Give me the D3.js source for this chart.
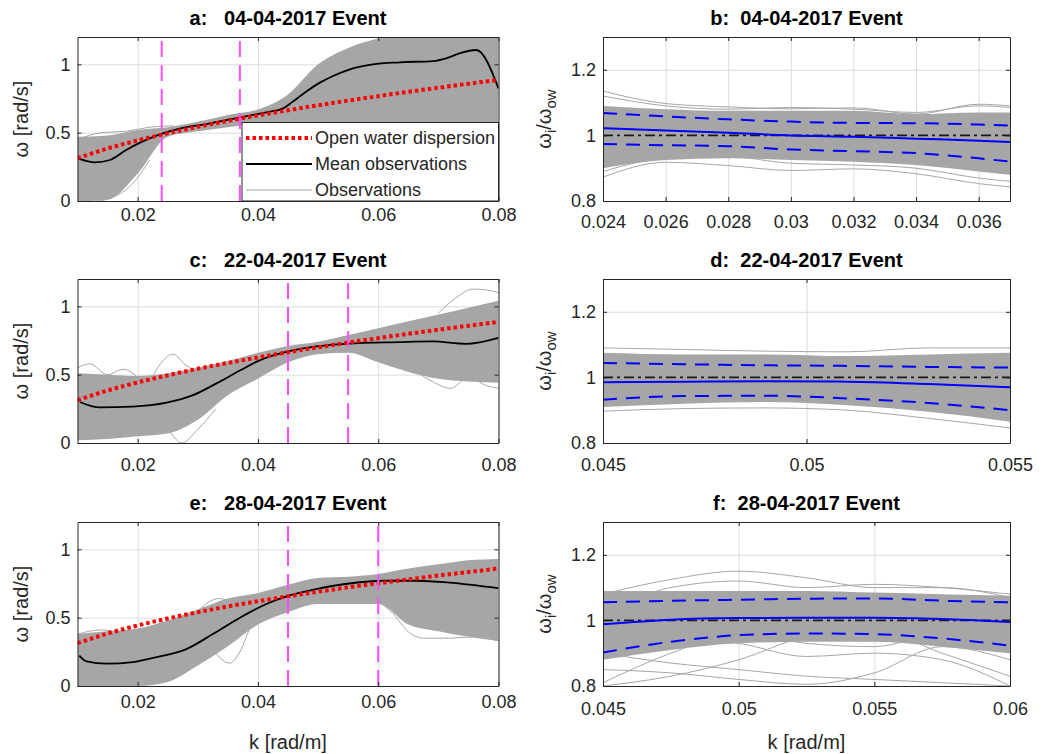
<!DOCTYPE html>
<html lang="en">
<head>
<meta charset="UTF-8">
<title>Dispersion events</title>
<script src="https://cdn.jsdelivr.net/npm/d3@7.9.0/dist/d3.min.js"></script>
<style>
    body { margin: 0; background: #fff; }
    svg { display: block; font-family: "Liberation Sans", Arial, Helvetica, sans-serif; }
    .axis text { fill: #262626; font-size: 18px; }
    .axis path, .axis line { stroke: #262626; }
    .grid line { stroke: #dcdcdc; }
    .grid path { display: none; }
    .title { font-size: 20px; font-weight: bold; fill: #000; white-space: pre; }
    .label { font-size: 20px; fill: #262626; }
</style>
</head>
<body>
<svg id="fig" width="1063" height="754"></svg>
<script>
// wavenumber grid for the envelopes of the left column
const kGrid = [0.01, 0.015, 0.02, 0.025, 0.03, 0.035, 0.04, 0.045, 0.05, 0.055, 0.06, 0.065, 0.07, 0.075, 0.08];

// open water dispersion
const owAC = [0.313, 0.384, 0.443, 0.495, 0.543, 0.586, 0.626, 0.664, 0.700, 0.735, 0.767, 0.799, 0.829, 0.858, 0.886];
const owE  = [0.313, 0.384, 0.443, 0.494, 0.540, 0.582, 0.620, 0.656, 0.690, 0.722, 0.752, 0.780, 0.808, 0.834, 0.860];

// a: 04-04-2017
const meanAK = [0.0102, 0.0129, 0.0154, 0.0181, 0.0204, 0.0237, 0.027, 0.0314, 0.037, 0.0414, 0.0442, 0.0458, 0.048, 0.0503, 0.0525, 0.0558, 0.0591, 0.0636, 0.0691, 0.0713, 0.0735, 0.0763, 0.08];
const meanAW = [0.31, 0.283, 0.30, 0.373, 0.427, 0.488, 0.53, 0.563, 0.612, 0.649, 0.678, 0.727, 0.80, 0.866, 0.915, 0.971, 1.0, 1.015, 1.024, 1.044, 1.08, 1.105, 0.824];
const obsATop = [0.47, 0.48, 0.52, 0.54, 0.58, 0.63, 0.67, 0.78, 1.0, 1.12, 1.19, 1.25, 1.25, 1.25, 1.25];
const obsABot = [0.0, 0.01, 0.2, 0.47, 0.51, 0.54, 0.56, 0.54, 0.5, 0.48, 0.47, 0.46, 0.45, 0.45, 0.45];
const strayA = [
    [[0.01, 0.02], [0.013, 0.0], [0.016, 0.03], [0.019, 0.12], [0.022, 0.3]],
    [[0.01, 0.45], [0.014, 0.5], [0.018, 0.51], [0.022, 0.54], [0.026, 0.55]]
];
const cutA = [0.024, 0.037];

// c: 22-04-2017
const meanCK = [0.0104, 0.0137, 0.0192, 0.0248, 0.0292, 0.0331, 0.037, 0.0403, 0.0447, 0.0497, 0.0547, 0.0635, 0.069, 0.0746, 0.08];
const meanCW = [0.30, 0.26, 0.266, 0.295, 0.35, 0.436, 0.53, 0.605, 0.666, 0.707, 0.726, 0.738, 0.743, 0.726, 0.77];
const obsCTop = [0.51, 0.5, 0.49, 0.51, 0.55, 0.6, 0.66, 0.71, 0.74, 0.79, 0.84, 0.89, 0.94, 0.99, 1.04];
const obsCBot = [0.02, 0.03, 0.05, 0.07, 0.17, 0.35, 0.47, 0.59, 0.65, 0.66, 0.59, 0.52, 0.47, 0.45, 0.44];
const strayC = [
    [[0.01, 0.55], [0.012, 0.58], [0.015, 0.5], [0.0176, 0.54], [0.02, 0.48]],
    [[0.022, 0.45], [0.0259, 0.65], [0.028, 0.57], [0.031, 0.52]],
    [[0.022, 0.2], [0.025, 0.1], [0.0273, 0.0], [0.03, 0.1], [0.033, 0.25]],
    [[0.07, 0.95], [0.0735, 1.08], [0.0757, 1.126], [0.078, 1.12], [0.08, 1.1]],
    [[0.064, 0.6], [0.069, 0.45], [0.072, 0.4], [0.075, 0.48], [0.078, 0.42], [0.08, 0.4]]
];
const cutC = [0.045, 0.055];

// e: 28-04-2017
const meanEK = [0.0103, 0.0115, 0.0148, 0.0192, 0.0237, 0.0281, 0.0325, 0.037, 0.0414, 0.045, 0.0497, 0.0552, 0.0608, 0.0663, 0.0718, 0.08];
const meanEW = [0.223, 0.18, 0.163, 0.175, 0.216, 0.27, 0.38, 0.50, 0.60, 0.66, 0.709, 0.75, 0.77, 0.77, 0.757, 0.716];
const obsETop = [0.38, 0.4, 0.42, 0.48, 0.56, 0.64, 0.68, 0.74, 0.79, 0.8, 0.82, 0.86, 0.89, 0.92, 0.93];
const obsEBot = [0.0, 0.0, 0.0, 0.03, 0.15, 0.29, 0.45, 0.54, 0.6, 0.6, 0.6, 0.45, 0.4, 0.36, 0.33];
const strayE = [
    [[0.032, 0.3], [0.0353, 0.167], [0.037, 0.25], [0.039, 0.45], [0.042, 0.55], [0.045, 0.6]],
    [[0.06, 0.62], [0.062, 0.55], [0.0655, 0.38], [0.0675, 0.35], [0.072, 0.35], [0.076, 0.36], [0.08, 0.33]],
    [[0.03, 0.55], [0.0335, 0.64], [0.036, 0.62], [0.038, 0.66]],
    [[0.01, 0.38], [0.014, 0.41], [0.018, 0.39], [0.022, 0.42]]
];
const cutE = [0.045, 0.06];

// b: ratio, 04-04-2017
const bK = [0.024, 0.026, 0.028, 0.03, 0.032, 0.034, 0.036, 0.037];
const bMean = [1.022, 1.015, 1.008, 1.0, 0.996, 0.99, 0.984, 0.98];
const bUp = [1.068, 1.058, 1.049, 1.042, 1.038, 1.037, 1.033, 1.03];
const bLo = [0.974, 0.97, 0.967, 0.957, 0.952, 0.946, 0.93, 0.92];
const bCoreTop = [1.09, 1.08, 1.075, 1.075, 1.075, 1.065, 1.07, 1.07];
const bCoreBot = [0.9, 0.925, 0.93, 0.925, 0.92, 0.91, 0.89, 0.88];
const strayB = [
    [1.135, 1.097, 1.087, 1.081, 1.084, 1.065, 1.095, 1.09],
    [1.12, 1.09, 1.08, 1.085, 1.08, 1.07, 1.09, 1.085],
    [0.873, 0.918, 0.908, 0.893, 0.898, 0.883, 0.853, 0.843],
    [0.89, 0.93, 0.935, 0.915, 0.91, 0.9, 0.87, 0.86]
];

// d: ratio, 22-04-2017
const dK = [0.045, 0.047, 0.049, 0.051, 0.053, 0.055];
const dMean = [0.985, 0.987, 0.988, 0.987, 0.98, 0.97];
const dUp = [1.044, 1.04, 1.037, 1.035, 1.032, 1.03];
const dLo = [0.932, 0.943, 0.944, 0.936, 0.922, 0.90];
const dCoreTop = [1.075, 1.07, 1.07, 1.065, 1.07, 1.075];
const dCoreBot = [0.91, 0.92, 0.925, 0.915, 0.895, 0.865];
const strayD = [
    [1.09, 1.085, 1.08, 1.078, 1.09, 1.09],
    [0.897, 0.905, 0.907, 0.9, 0.875, 0.846]
];

// f: ratio, 28-04-2017
const fK = [0.045, 0.0475, 0.05, 0.0525, 0.055, 0.0575, 0.06];
const fMean = [0.988, 1.002, 1.007, 1.008, 1.008, 1.004, 0.995];
const fUp = [1.055, 1.06, 1.063, 1.066, 1.067, 1.06, 1.055];
const fLo = [0.902, 0.935, 0.955, 0.96, 0.958, 0.945, 0.923];
const fCoreTop = [1.09, 1.09, 1.09, 1.09, 1.085, 1.08, 1.075];
const fCoreBot = [0.88, 0.91, 0.93, 0.935, 0.935, 0.92, 0.9];
const strayF = [
    [1.08, 1.125, 1.15, 1.13, 1.1, 1.1, 1.07],
    [1.02, 1.1, 1.12, 1.1, 1.11, 1.1, 1.08],
    [0.81, 0.9, 0.96, 0.93, 0.92, 0.96, 0.95],
    [0.9, 0.87, 0.85, 0.83, 0.82, 0.81, 0.8],
    [0.85, 0.84, 0.82, 0.805, 0.84, 0.92, 0.88],
    [0.92, 0.95, 0.93, 0.89, 0.9, 0.88, 0.8],
    [0.8, 0.83, 0.88, 0.95, 0.97, 0.9, 0.83]
];

// tick labels
const leftXTicks = [0.02, 0.04, 0.06, 0.08];
const leftYTicks = [0, 0.5, 1];
const rightYTicks = [0.8, 1, 1.2];
const bTicks = [0.024, 0.026, 0.028, 0.03, 0.032, 0.034, 0.036];
const dTicks = [0.045, 0.05, 0.055];
const fTicks = [0.045, 0.05, 0.055, 0.06];

const GRAY = '#a6a6a6';
const svg = d3.select('#fig');
svg.append('rect').attr('width', 1063).attr('height', 754).attr('fill', '#fff');

const fmt = v => String(+v.toFixed(4));
const rows = [37, 279, 522];
const H = 164;

function panel(o) {
    let top = rows[o.row], bottom = top + H;
    let x = d3.scaleLinear().domain(o.xDomain).range(o.xRange);
    let y = d3.scaleLinear().domain(o.yDomain).range([bottom, top]);
    let g = svg.append('g');

    svg.append('clipPath').attr('id', 'clip-' + o.name)
        .append('rect')
        .attr('x', o.xRange[0]).attr('y', top)
        .attr('width', o.xRange[1] - o.xRange[0]).attr('height', H);

    // grid
    g.append('g').attr('class', 'grid').attr('transform', `translate(0,${bottom})`)
        .call(d3.axisBottom(x).tickValues(o.xTicks).tickSize(-H).tickFormat(''));
    g.append('g').attr('class', 'grid').attr('transform', `translate(${o.xRange[0]},0)`)
        .call(d3.axisLeft(y).tickValues(o.yTicks).tickSize(-(o.xRange[1] - o.xRange[0])).tickFormat(''));

    let plot = g.append('g').attr('clip-path', `url(#clip-${o.name})`);
    o.draw(plot, x, y);

    // axes box with inward ticks on all sides
    g.append('g').attr('class', 'axis').attr('transform', `translate(0,${bottom})`)
        .call(d3.axisBottom(x).tickValues(o.xTicks).tickSizeInner(-4).tickSizeOuter(0).tickPadding(o.xPad).tickFormat(fmt));
    g.append('g').attr('class', 'axis').attr('transform', `translate(0,${top})`)
        .call(d3.axisTop(x).tickValues(o.xTicks).tickSizeInner(-4).tickSizeOuter(0).tickFormat(''));
    g.append('g').attr('class', 'axis').attr('transform', `translate(${o.xRange[0]},0)`)
        .call(d3.axisLeft(y).tickValues(o.yTicks).tickSizeInner(-4).tickSizeOuter(0).tickPadding(7).tickFormat(fmt));
    g.append('g').attr('class', 'axis').attr('transform', `translate(${o.xRange[1]},0)`)
        .call(d3.axisRight(y).tickValues(o.yTicks).tickSizeInner(-4).tickSizeOuter(0).tickFormat(''));
    g.selectAll('.axis').attr('font-size', null).attr('font-family', null);

    g.append('text').attr('class', 'title')
        .attr('x', (o.xRange[0] + o.xRange[1]) / 2).attr('y', top - 12)
        .attr('text-anchor', 'middle').text(o.title);

    let cy = (top + bottom) / 2;
    if (o.ratio) {
        let t = g.append('text').attr('class', 'label')
            .attr('transform', `translate(551,${cy}) rotate(-90)`).attr('text-anchor', 'middle');
        t.append('tspan').text('ω');
        t.append('tspan').attr('dy', 5).attr('font-size', 15).text('i');
        t.append('tspan').attr('dy', -5).text('/ω');
        t.append('tspan').attr('dy', 5).attr('font-size', 15).text('ow');
    } else {
        g.append('text').attr('class', 'label')
            .attr('transform', `translate(28,${cy}) rotate(-90)`).attr('text-anchor', 'middle')
            .text('ω [rad/s]');
    }
    if (o.xLabel) {
        g.append('text').attr('class', 'label')
            .attr('x', (o.xRange[0] + o.xRange[1]) / 2).attr('y', 749)
            .attr('text-anchor', 'middle').text('k [rad/m]');
    }
    return { x, y, g, top, bottom };
}

// left column: observations, mean, open water curve, window limits
function drawLeft(top, bot, strays, meanK, meanW, ow, cuts) {
    return function (plot, x, y) {
        let idx = d3.range(kGrid.length);
        plot.append('path').datum(idx)
            .attr('fill', GRAY)
            .attr('d', d3.area().curve(d3.curveMonotoneX)
                .x(i => x(kGrid[i])).y0(i => y(bot[i])).y1(i => y(top[i])));
        let pairLine = d3.line().curve(d3.curveMonotoneX).x(d => x(d[0])).y(d => y(d[1]));
        plot.selectAll('path.stray').data(strays).enter().append('path')
            .attr('class', 'stray').attr('fill', 'none').attr('stroke', GRAY).attr('stroke-width', 1)
            .attr('d', pairLine);
        plot.append('path').datum(d3.range(meanK.length))
            .attr('fill', 'none').attr('stroke', '#000').attr('stroke-width', 1.8)
            .attr('d', d3.line().curve(d3.curveMonotoneX).x(i => x(meanK[i])).y(i => y(meanW[i])));
        plot.append('path').datum(idx)
            .attr('fill', 'none').attr('stroke', '#ff0000').attr('stroke-width', 4)
            .attr('stroke-dasharray', '3.5,3')
            .attr('d', d3.line().curve(d3.curveMonotoneX).x(i => x(kGrid[i])).y(i => y(ow[i])));
        plot.selectAll('line.cut').data(cuts).enter().append('line')
            .attr('class', 'cut')
            .attr('x1', d => x(d)).attr('x2', d => x(d))
            .attr('y1', y.range()[0]).attr('y2', y.range()[1])
            .attr('stroke', '#ff4dff').attr('stroke-width', 2).attr('stroke-dasharray', '16,8');
    };
}

// right column: normalised observations with mean and spread
function drawRight(k, coreTop, coreBot, strays, mean, up, lo) {
    return function (plot, x, y) {
        let idx = d3.range(k.length);
        let line = arr => d3.line().curve(d3.curveMonotoneX).x(i => x(k[i])).y(i => y(arr[i]))(idx);
        plot.append('path')
            .attr('fill', GRAY)
            .attr('d', d3.area().curve(d3.curveMonotoneX)
                .x(i => x(k[i])).y0(i => y(coreBot[i])).y1(i => y(coreTop[i]))(idx));
        plot.selectAll('path.stray').data(strays).enter().append('path')
            .attr('class', 'stray').attr('fill', 'none').attr('stroke', GRAY).attr('stroke-width', 1)
            .attr('d', d => line(d));
        plot.append('line')
            .attr('x1', x.range()[0]).attr('x2', x.range()[1])
            .attr('y1', y(1)).attr('y2', y(1))
            .attr('stroke', '#1a1a1a').attr('stroke-width', 1.8).attr('stroke-dasharray', '10,4,3,4');
        plot.append('path').attr('fill', 'none').attr('stroke', '#0000ff').attr('stroke-width', 2)
            .attr('d', line(mean));
        [up, lo].forEach(arr => {
            plot.append('path').attr('fill', 'none').attr('stroke', '#0000ff').attr('stroke-width', 2)
                .attr('stroke-dasharray', '14,9').attr('d', line(arr));
        });
    };
}

const LX = [77.5, 498.5], RX = [603, 1010];

let pa = panel({ name: 'a', row: 0, xPad: 7, xRange: LX, xDomain: [0.01, 0.08], yDomain: [0, 1.2],
    xTicks: leftXTicks, yTicks: leftYTicks, title: 'a:   04-04-2017 Event',
    draw: drawLeft(obsATop, obsABot, strayA, meanAK, meanAW, owAC, cutA) });
panel({ name: 'b', row: 0, ratio: true, xPad: 14, xRange: RX, xDomain: [0.024, 0.037], yDomain: [0.8, 1.3],
    xTicks: bTicks, yTicks: rightYTicks, title: 'b:  04-04-2017 Event',
    draw: drawRight(bK, bCoreTop, bCoreBot, strayB, bMean, bUp, bLo) });
panel({ name: 'c', row: 1, xPad: 15, xRange: LX, xDomain: [0.01, 0.08], yDomain: [0, 1.2],
    xTicks: leftXTicks, yTicks: leftYTicks, title: 'c:   22-04-2017 Event',
    draw: drawLeft(obsCTop, obsCBot, strayC, meanCK, meanCW, owAC, cutC) });
panel({ name: 'd', row: 1, ratio: true, xPad: 15, xRange: RX, xDomain: [0.045, 0.055], yDomain: [0.8, 1.3],
    xTicks: dTicks, yTicks: rightYTicks, title: 'd:  22-04-2017 Event',
    draw: drawRight(dK, dCoreTop, dCoreBot, strayD, dMean, dUp, dLo) });
panel({ name: 'e', row: 2, xLabel: true, xPad: 9, xRange: LX, xDomain: [0.01, 0.08], yDomain: [0, 1.2],
    xTicks: leftXTicks, yTicks: leftYTicks, title: 'e:   28-04-2017 Event',
    draw: drawLeft(obsETop, obsEBot, strayE, meanEK, meanEW, owE, cutE) });
panel({ name: 'f', row: 2, ratio: true, xLabel: true, xPad: 16, xRange: RX, xDomain: [0.045, 0.06], yDomain: [0.8, 1.3],
    xTicks: fTicks, yTicks: rightYTicks, title: 'f:  28-04-2017 Event',
    draw: drawRight(fK, fCoreTop, fCoreBot, strayF, fMean, fUp, fLo) });

// legend of panel a
const legendItems = ['Open water dispersion', 'Mean observations', 'Observations'];
const legendStyle = [
    { stroke: '#ff0000', width: 4, dash: '3.5,3' },
    { stroke: '#000', width: 1.8, dash: null },
    { stroke: GRAY, width: 1.2, dash: null }
];
let lg = pa.g.append('g');
lg.append('rect').attr('x', 242).attr('y', 122.5).attr('width', 256.5).attr('height', 78.5)
    .attr('fill', '#fff').attr('stroke', '#262626').attr('stroke-width', 1);
let rowsL = lg.selectAll('g.item').data(legendItems).enter().append('g')
    .attr('class', 'item')
    .attr('transform', (d, i) => `translate(0,${138 + i * 26})`);
rowsL.append('line').attr('x1', 246).attr('x2', 312).attr('y1', 0).attr('y2', 0)
    .attr('stroke', (d, i) => legendStyle[i].stroke)
    .attr('stroke-width', (d, i) => legendStyle[i].width)
    .attr('stroke-dasharray', (d, i) => legendStyle[i].dash);
rowsL.append('text').attr('x', 315).attr('y', 6).attr('font-size', 18).attr('fill', '#262626')
    .text(d => d);
</script>
</body>
</html>
